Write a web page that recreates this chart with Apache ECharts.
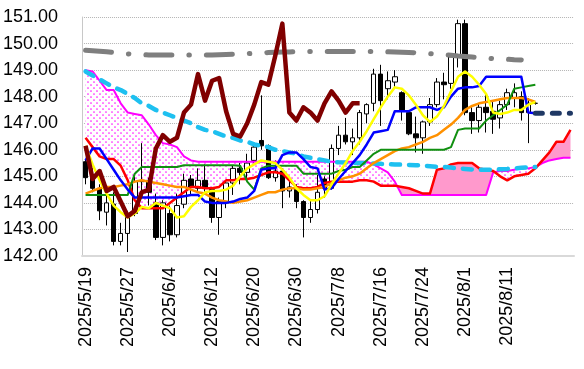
<!DOCTYPE html>
<html><head><meta charset="utf-8">
<script src="https://cdn.jsdelivr.net/npm/echarts@6/dist/echarts.min.js"></script>
<style>html,body{margin:0;padding:0;background:#fff}#c{width:584px;height:369px}</style>
</head><body><div id="c"></div>
<script>
const categories = ['2025/5/19','2025/5/20','2025/5/21','2025/5/22','2025/5/23','2025/5/26','2025/5/27','2025/5/28','2025/5/29','2025/5/30',
'2025/6/2','2025/6/3','2025/6/4','2025/6/5','2025/6/6','2025/6/9','2025/6/10','2025/6/11','2025/6/12','2025/6/13',
'2025/6/16','2025/6/17','2025/6/18','2025/6/19','2025/6/20','2025/6/23','2025/6/24','2025/6/25','2025/6/26','2025/6/27',
'2025/6/30','2025/7/1','2025/7/2','2025/7/3','2025/7/4','2025/7/7','2025/7/8','2025/7/9','2025/7/10','2025/7/11',
'2025/7/14','2025/7/15','2025/7/16','2025/7/17','2025/7/18','2025/7/21','2025/7/22','2025/7/23','2025/7/24','2025/7/25',
'2025/7/28','2025/7/29','2025/7/30','2025/7/31','2025/8/1','2025/8/4','2025/8/5','2025/8/6','2025/8/7','2025/8/8',
'2025/8/11','2025/8/12','2025/8/13','2025/8/14','2025/8/15','','','','',''];

const opens  = [145.55,144.95,144.55,143.65,143.95,142.55,142.85,143.6,144.8,144.85,144.0,142.7,143.6,142.8,143.95,144.9,144.55,144.85,144.5,143.45,144.0,144.75,145.3,145.15,145.6,146.35,146.15,144.95,145.2,144.45,144.6,144.05,143.45,143.75,144.9,144.55,146.05,146.55,146.3,146.45,147.35,147.75,148.85,148.3,148.55,148.15,147.4,146.6,146.45,147.05,147.7,148.55,148.5,149.5,150.75,147.4,147.1,147.6,147.45,147.2,147.7,147.95,148.0,147.4,147.75];
const closes = [144.95,144.55,143.7,144.0,142.55,142.85,143.6,144.8,144.85,144.4,142.7,144.0,142.8,143.9,144.85,144.6,144.85,144.55,143.45,144.05,144.75,145.3,145.15,145.5,146.1,146.15,144.95,145.2,144.45,144.6,144.05,143.45,143.75,144.4,144.55,146.05,146.55,146.3,146.45,147.4,147.7,148.85,147.85,148.6,148.75,147.5,146.6,146.45,147.05,147.7,148.55,148.45,149.5,150.75,147.4,147.1,147.6,147.4,147.15,147.7,148.15,148.15,147.4,147.75,147.75];
const lows   = [144.7,144.4,143.35,143.15,142.4,142.4,142.15,143.5,144.35,143.9,142.6,142.4,142.55,142.7,143.8,144.3,144.4,144.3,143.25,142.8,143.8,144.3,144.7,144.9,145.5,146.0,144.9,144.8,143.8,144.2,143.8,142.7,143.25,143.6,144.2,144.5,145.8,146.2,145.8,146.2,147.0,147.45,146.9,147.9,148.3,147.1,146.55,145.9,145.85,146.9,147.6,147.9,148.3,149.1,147.3,146.6,146.65,146.65,146.6,146.8,147.5,147.6,147.1,146.25,147.7];
const highs  = [145.65,145.3,144.7,144.6,144.4,143.25,143.7,145.0,146.25,144.95,144.35,144.1,143.9,144.35,145.1,145.05,145.3,145.45,144.6,144.2,144.8,145.4,145.5,145.85,146.25,148.05,146.2,145.6,145.3,144.9,144.7,144.1,144.1,145.05,145.0,146.2,146.9,147.2,146.8,147.5,147.75,149.05,149.2,148.95,149.0,148.2,147.5,147.25,147.1,147.95,148.7,148.9,149.55,150.9,150.9,147.6,147.75,148.1,147.8,147.85,148.3,148.5,148.2,147.95,147.8];

const tenkan = [145.6,146.05,146.05,145.65,145.25,144.85,144.5,144.2,144.2,144.2,144.2,144.2,144.2,144.2,144.25,144.3,144.3,144.05,144.0,144.0,144.0,144.05,144.15,144.2,144.45,145.25,145.3,145.3,145.8,145.9,145.9,145.65,145.35,145.3,144.5,144.55,144.9,145.2,145.5,145.8,146.2,146.65,146.7,146.75,147.45,147.45,147.45,147.6,147.6,147.6,147.5,147.6,148.0,148.3,148.35,148.35,148.4,148.75,148.75,148.75,148.75,148.75,148.75,147.4,147.38];
const kijun = [144.3,144.3,144.3,144.3,144.3,144.3,144.3,145.1,145.35,145.35,145.35,145.35,145.35,145.35,145.42,145.42,145.42,145.42,145.42,145.42,145.42,145.42,145.4,144.8,144.5,145.3,145.4,145.4,145.4,145.4,145.4,145.1,145.1,145.1,145.1,145.1,145.2,145.25,145.35,145.35,145.6,145.85,146.0,146.0,146.0,146.0,146.0,146.0,146.0,146.0,146.0,146.0,146.1,146.75,146.8,146.8,146.8,147.1,147.3,147.5,147.7,148.3,148.35,148.4,148.45];
const senkouA = [146.45,146.1,145.75,145.65,145.65,145.4,144.85,144.1,143.8,143.8,143.8,143.8,144.0,144.2,144.4,144.6,144.6,144.55,144.55,144.6,144.85,144.85,144.9,144.9,144.95,145.05,145.15,145.15,145.1,144.85,144.6,144.55,144.55,144.6,144.75,144.8,144.8,144.8,144.8,144.85,144.85,144.8,144.65,144.65,144.65,144.6,144.55,144.45,144.35,144.35,145.25,145.3,145.45,145.5,145.5,145.5,145.3,145.25,145.2,145.0,144.85,145.0,145.05,145.1,145.3,145.6,145.9,146.3,146.3,146.75];
const senkouB = [149.0,148.95,148.6,148.25,148.25,147.75,147.4,147.35,147.3,146.95,146.55,146.25,146.2,146.1,145.75,145.6,145.55,145.55,145.55,145.55,145.55,145.55,145.55,145.55,145.55,145.55,145.55,145.55,145.55,145.55,145.55,145.55,145.55,145.55,145.55,145.55,145.55,145.55,145.55,145.55,145.55,145.45,145.3,145.15,144.8,144.3,144.3,144.3,144.3,144.3,144.3,144.3,144.3,144.3,144.3,144.3,144.3,144.3,145.15,145.2,145.2,145.25,145.3,145.3,145.35,145.5,145.6,145.65,145.7,145.7];
const chikou = [146.15,144.9,145.2,144.45,144.6,144.05,143.5,143.7,144.4,144.5,146.05,146.55,146.3,146.45,147.4,147.7,148.85,147.85,148.6,148.7,147.45,146.6,146.5,147.0,147.7,148.55,148.45,149.55,150.75,147.4,147.1,147.6,147.4,147.1,147.75,148.2,147.85,147.4,147.75,147.75];
const ma5 = [146.15,145.45,144.85,144.35,143.9,143.65,143.45,143.6,143.85,143.8,144.0,143.9,143.8,143.45,143.5,143.85,144.1,144.4,144.45,144.45,144.5,144.65,145.0,145.3,145.45,145.6,145.55,145.5,145.25,144.95,144.55,144.3,144.1,144.1,144.25,144.7,145.1,145.5,145.95,146.3,146.7,147.15,147.6,148.0,148.35,148.3,148.05,147.7,147.3,147.05,147.25,147.65,148.2,148.75,148.95,148.75,148.45,148.1,147.4,147.35,147.4,147.5,147.5,147.7,147.8];
const ma25 = [144.35,144.45,144.55,144.6,144.6,144.65,144.7,144.8,144.85,144.8,144.75,144.7,144.65,144.6,144.6,144.5,144.4,144.35,144.2,144.1,144.05,144.0,144.05,144.1,144.2,144.3,144.4,144.4,144.5,144.55,144.55,144.5,144.5,144.55,144.6,144.75,144.85,144.95,145.0,145.1,145.3,145.5,145.65,145.8,145.95,146.05,146.1,146.2,146.3,146.45,146.55,146.75,146.95,147.2,147.5,147.65,147.75,147.8,147.85,147.9,147.95,147.95,147.95,147.9,147.8];
const ma75 = [148.95,148.8,148.65,148.5,148.35,148.25,148.1,147.95,147.75,147.65,147.5,147.4,147.3,147.2,147.1,147.0,146.85,146.75,146.7,146.6,146.5,146.45,146.35,146.3,146.2,146.15,146.1,146.0,145.95,145.9,145.85,145.75,145.7,145.65,145.6,145.55,145.53,145.52,145.5,145.5,145.5,145.48,145.47,145.46,145.45,145.44,145.43,145.42,145.4,145.38,145.36,145.35,145.33,145.3,145.28,145.26,145.25,145.25,145.25,145.27,145.28,145.3,145.32,145.34,145.35];
const ma200 = [149.75,149.73,149.71,149.69,149.66,149.63,149.61,149.6,149.58,149.57,149.57,149.57,149.57,149.57,149.57,149.57,149.57,149.57,149.57,149.58,149.59,149.6,149.61,149.62,149.63,149.65,149.66,149.67,149.68,149.68,149.7,149.7,149.7,149.7,149.7,149.7,149.7,149.7,149.7,149.7,149.7,149.7,149.7,149.69,149.68,149.67,149.66,149.65,149.63,149.62,149.6,149.58,149.56,149.53,149.51,149.49,149.47,149.45,149.43,149.42,149.41,149.39,149.38];
const tenkanAhead = [null,null,null,null,null,null,null,null,null,null,null,null,null,null,null,null,null,null,null,null,null,null,null,null,null,null,null,null,null,null,null,null,null,null,null,null,null,null,null,null,null,null,null,null,null,null,null,null,null,null,null,null,null,null,null,null,null,null,null,null,null,null,null,null,147.38,147.38,147.38,147.38,147.38,147.38];
const yTicks = {min: 142, max: 151, step: 1};

const candleData = opens.map((o, i) => [o, closes[i], lows[i], highs[i]]);

const dot = document.createElement('canvas');
dot.width = 6; dot.height = 6;
const g = dot.getContext('2d');
g.fillStyle = '#ffffff'; g.fillRect(0, 0, 6, 6);
g.fillStyle = '#ff1aff';
g.beginPath(); g.arc(1, 1, 0.85, 0, Math.PI * 2); g.fill();
g.beginPath(); g.arc(4, 4, 0.85, 0, Math.PI * 2); g.fill();
const dotFill = {image: dot, repeat: 'repeat'};
const pinkFill = '#FF99CC';

function cloudRender(params, api) {
  const children = [];
  const pts = senkouA.map((a, i) => ({a: api.coord([i, a]), b: api.coord([i, senkouB[i]]), d: a - senkouB[i]}));
  let curA = [pts[0].a], curB = [pts[0].b], sign = Math.sign(pts[0].d);
  function flush(s) {
    if (curA.length > 1) {
      children.push({type: 'polygon', shape: {points: curA.concat(curB.slice().reverse())},
        style: {fill: s > 0 ? pinkFill : dotFill, stroke: null}});
    }
  }
  for (let i = 1; i < pts.length; i++) {
    const d0 = pts[i - 1].d, d1 = pts[i].d, s1 = Math.sign(d1);
    if (sign === 0) sign = s1;
    if (s1 !== 0 && sign !== 0 && s1 !== sign) {
      const t = d0 / (d0 - d1);
      const c = [pts[i - 1].a[0] + t * (pts[i].a[0] - pts[i - 1].a[0]), pts[i - 1].a[1] + t * (pts[i].a[1] - pts[i - 1].a[1])];
      curA.push(c); curB.push(c);
      flush(sign);
      curA = [c]; curB = [c]; sign = s1;
    }
    curA.push(pts[i].a); curB.push(pts[i].b);
  }
  flush(sign);
  return {type: 'group', children};
}

function line(data, color, width, z, type, cap) {
  return {type: 'line', data, symbol: 'none', z, silent: true,
    lineStyle: {color, width, type: type || 'solid', cap: cap || 'butt', join: 'round'}};
}

const FONT = "'Liberation Sans', Arial, sans-serif";
const chart = echarts.init(document.getElementById('c'), null, {renderer: 'canvas'});
chart.setOption({
  animation: false,
  backgroundColor: '#ffffff',
  grid: {left: 80, right: 10, top: 17, bottom: 113},
  xAxis: {
    type: 'category', data: categories, boundaryGap: true,
    axisLine: {show: true, lineStyle: {color: '#d9d9d9', width: 2}},
    axisTick: {show: false},
    axisLabel: {interval: 5, rotate: 90, margin: 11, color: '#000', fontSize: 18, fontFamily: FONT},
    splitLine: {show: false}
  },
  yAxis: {
    type: 'value', min: yTicks.min, max: yTicks.max, interval: yTicks.step,
    axisLine: {show: true, lineStyle: {color: '#c8c8c8', width: 1}},
    axisTick: {show: false},
    axisLabel: {color: '#000', fontSize: 18, fontFamily: FONT, margin: 24, formatter: v => v.toFixed(2)},
    splitLine: {show: true, lineStyle: {color: '#b4b4b4', type: 'dotted', width: 1}}
  },
  series: [
    {type: 'custom', renderItem: cloudRender, data: [[0, senkouA[0]]], z: 1, silent: true, clip: true},
    {type: 'candlestick', data: candleData, z: 3, barWidth: 5, silent: true,
      itemStyle: {color: '#ffffff', color0: '#000000', borderColor: '#000000', borderColor0: '#000000', borderWidth: 1}},
    line(senkouB, '#FF00FF', 2, 4),
    line(senkouA, '#FF0000', 2.5, 4),
    line(ma75, '#1EC0F0', 4.5, 4, [9, 9], 'round'),
    line(ma200, '#7F7F7F', 5, 4, [26, 17, 0.5, 17], 'round'),
    line(ma25, '#FF9100', 2.5, 5),
    line(kijun, '#109010', 2, 5),
    line(tenkan, '#0000FF', 2.5, 5),
    line(ma5, '#FFFF00', 2.5, 6),
    line(tenkanAhead, '#1F3864', 5, 6, [7, 10], 'round'),
    line(chikou, '#800000', 4.5, 7)
  ]
});
</script></body></html>
